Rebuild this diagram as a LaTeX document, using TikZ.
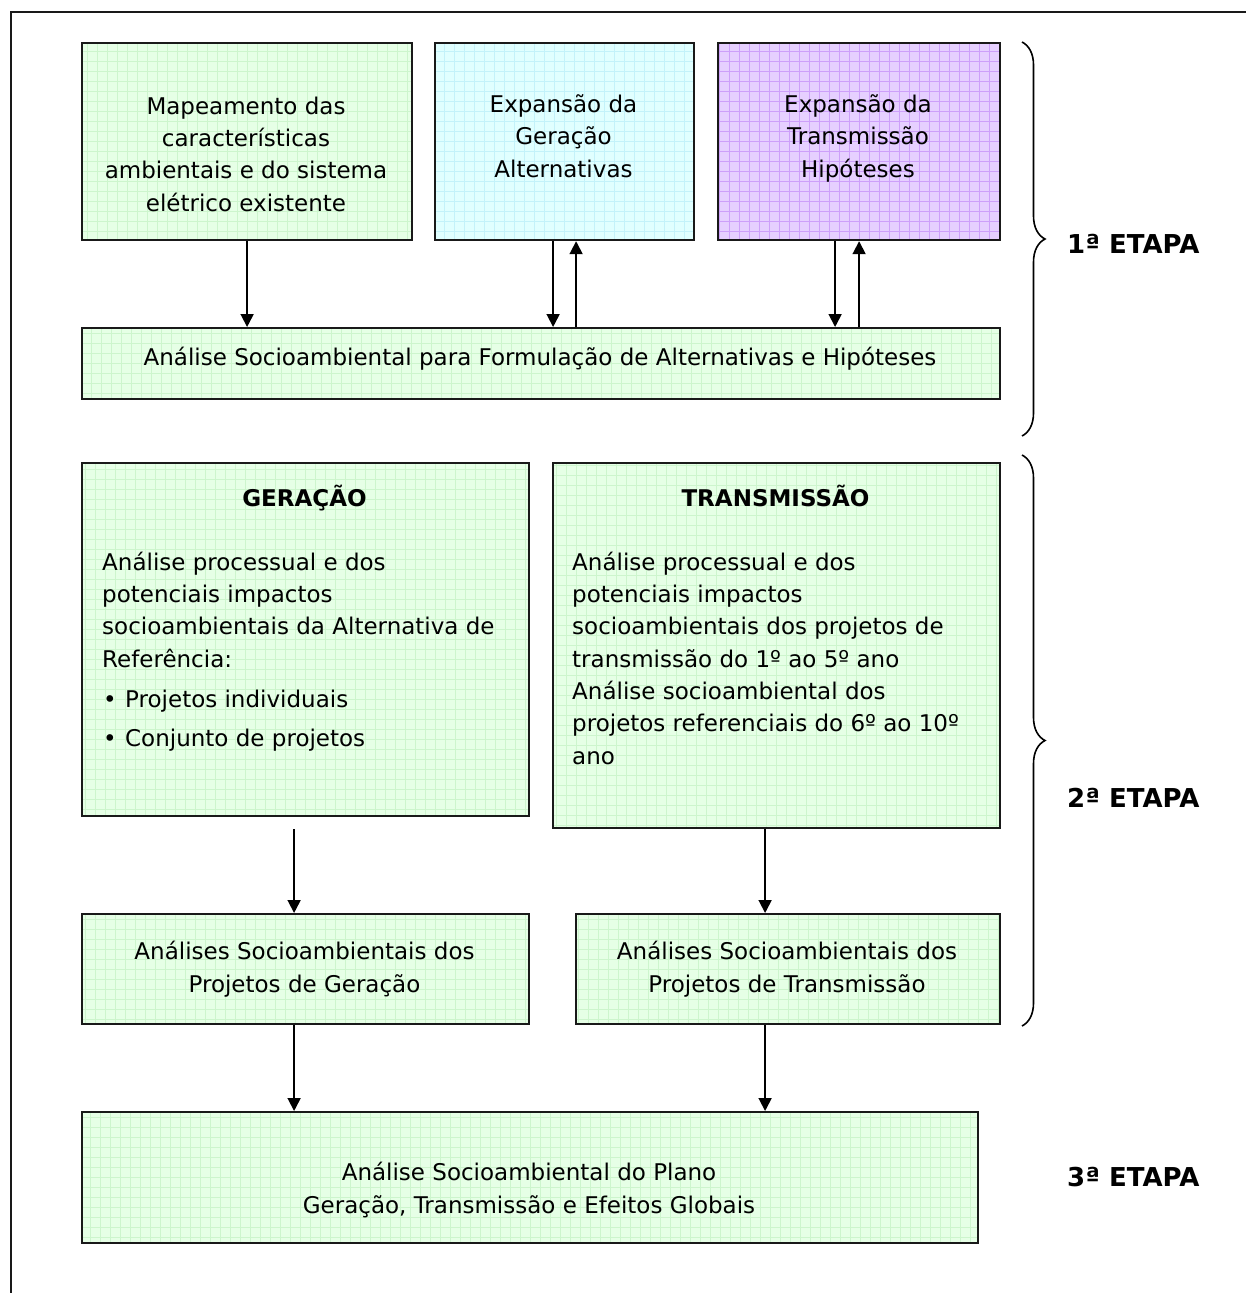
\documentclass[tikz,border=0pt]{standalone}
\usepackage{fontspec}
\setmainfont{DejaVu Sans}
\usetikzlibrary{arrows.meta,decorations.pathreplacing,calc}
\definecolor{gfill}{RGB}{230,255,230}
\definecolor{ggrid}{RGB}{205,245,205}
\definecolor{cfill}{RGB}{224,255,255}
\definecolor{cgrid}{RGB}{195,242,250}
\definecolor{pfill}{RGB}{230,208,255}
\definecolor{pgrid}{RGB}{205,160,250}
\definecolor{edge}{RGB}{25,25,25}
\tikzset{
  gridbox/.style 2 args={draw=edge, line width=2.2pt, fill=#1, inner sep=0pt, anchor=north west,
    path picture={\draw[#2, line width=0.7pt, step=10pt] (path picture bounding box.south west) grid (path picture bounding box.north east);}},
  gbox/.style={gridbox={gfill}{ggrid}},
  cbox/.style={gridbox={cfill}{cgrid}},
  pbox/.style={gridbox={pfill}{pgrid}},
  conn/.style={-{Triangle[length=13pt,width=13pt]}, line width=1.8pt, draw=black},
  txt/.style={font=\fontsize{23}{32.3}\selectfont, inner sep=0pt, align=center, anchor=base},
  txtl/.style={font=\fontsize{23}{32.3}\selectfont, inner sep=0pt, align=left, anchor=base west},
  ttl/.style={font=\fontsize{23}{32.3}\selectfont\bfseries, inner sep=0pt, anchor=base},
  etapa/.style={font=\fontsize{26}{30}\selectfont\bfseries, inner sep=0pt, anchor=base west},
  bracestyle/.style={decorate, decoration={brace, amplitude=23pt}, line width=1.6pt},
}
\begin{document}
\begin{tikzpicture}[x=1pt,y=-1pt]
\useasboundingbox (0,0) rectangle (1246,1293);
% outer frame
\draw[line width=1.6pt, draw=edge] (11,1293) -- (11,12) -- (1246,12);

% first stage boxes
\node[gbox, minimum width=330pt, minimum height=197pt] (A) at (81,42) {};
\node[cbox, minimum width=259pt, minimum height=197pt] (B) at (434,42) {};
\node[pbox, minimum width=282pt, minimum height=197pt] (C) at (717,42) {};
\node[gbox, minimum width=918pt, minimum height=71pt] (D) at (81,327) {};

% multi-line nodes: base anchor = baseline of last line
\node[txt] (tA) at (246,211) {Mapeamento das\\características\\ambientais e do sistema\\elétrico existente};
\node[txt] (tB) at (563.5,177) {Expansão da\\Geração\\Alternativas};
\node[txt] (tC) at (858,177) {Expansão da\\Transmissão\\Hipóteses};
\node[txt] (tD) at (540,365) {Análise Socioambiental para Formulação de Alternativas e Hipóteses};

\draw[conn] (A.south) -- (A.south |- D.north);
\draw[conn] ([xshift=-11.5pt]B.south) -- ([xshift=-11.5pt]B.south |- D.north);
\draw[conn] ([xshift=11.5pt]B.south |- D.north) -- ([xshift=11.5pt]B.south);
\draw[conn] ([xshift=-24pt]C.south) -- ([xshift=-24pt]C.south |- D.north);
\draw[conn] (C.south |- D.north) -- (C.south);

% second stage boxes
\node[gbox, minimum width=447pt, minimum height=353pt] (G) at (81,462) {};
\node[gbox, minimum width=447pt, minimum height=365pt] (T) at (552,462) {};
\node[ttl] (tG) at (304.5,506) {GERAÇÃO};
\node[ttl] (tT) at (775.5,506) {TRANSMISSÃO};
\node[txtl] (bG) at (102,667) {Análise processual e dos\\potenciais impactos\\socioambientais da Alternativa de\\Referência:};
\node[txtl] (b1) at (103,707) {\makebox[22pt][l]{•}Projetos individuais};
\node[txtl] (b2) at (103,746) {\makebox[22pt][l]{•}Conjunto de projetos};
\node[txtl] (bT) at (572,764) {Análise processual e dos\\potenciais impactos\\socioambientais dos projetos de\\transmissão do 1º ao 5º ano\\Análise socioambiental dos\\projetos referenciais do 6º ao 10º\\ano};

\node[gbox, minimum width=447pt, minimum height=110pt] (GA) at (81,913) {};
\node[gbox, minimum width=424pt, minimum height=110pt] (TA) at (575,913) {};
\node[txt] (tGA) at (304.5,992) {Análises Socioambientais dos\\Projetos de Geração};
\node[txt] (tTA) at (787,992) {Análises Socioambientais dos\\Projetos de Transmissão};

\coordinate (gstart) at ([xshift=-11.5pt]G.south |- T.south);
\draw[conn] (gstart) -- (gstart |- GA.north);
\draw[conn] ([xshift=-11.5pt]T.south) -- ([xshift=-11.5pt]T.south |- TA.north);

% third stage
\node[gbox, minimum width=896pt, minimum height=131pt] (F) at (81,1111) {};
\node[txt] (tF) at (529,1213) {Análise Socioambiental do Plano\\Geração, Transmissão e Efeitos Globais};
\draw[conn] ([xshift=-11.5pt]GA.south) -- ([xshift=-11.5pt]GA.south |- F.north);
\draw[conn] ([xshift=-23pt]TA.south) -- ([xshift=-23pt]TA.south |- F.north);

% braces and stage labels
\coordinate (br1a) at (1022,42);
\coordinate (br1b) at (1022,436);
\coordinate (br2a) at (1022,455);
\coordinate (br2b) at (1022,1026);
\draw[bracestyle] (br1a) -- (br1b);
\draw[bracestyle] (br2a) -- (br2b);
\node[etapa] (e1) at (1067,253) {1ª ETAPA};
\node[etapa] (e2) at (1067,807) {2ª ETAPA};
\node[etapa] (e3) at (1067,1186) {3ª ETAPA};
\end{tikzpicture}
\end{document}
